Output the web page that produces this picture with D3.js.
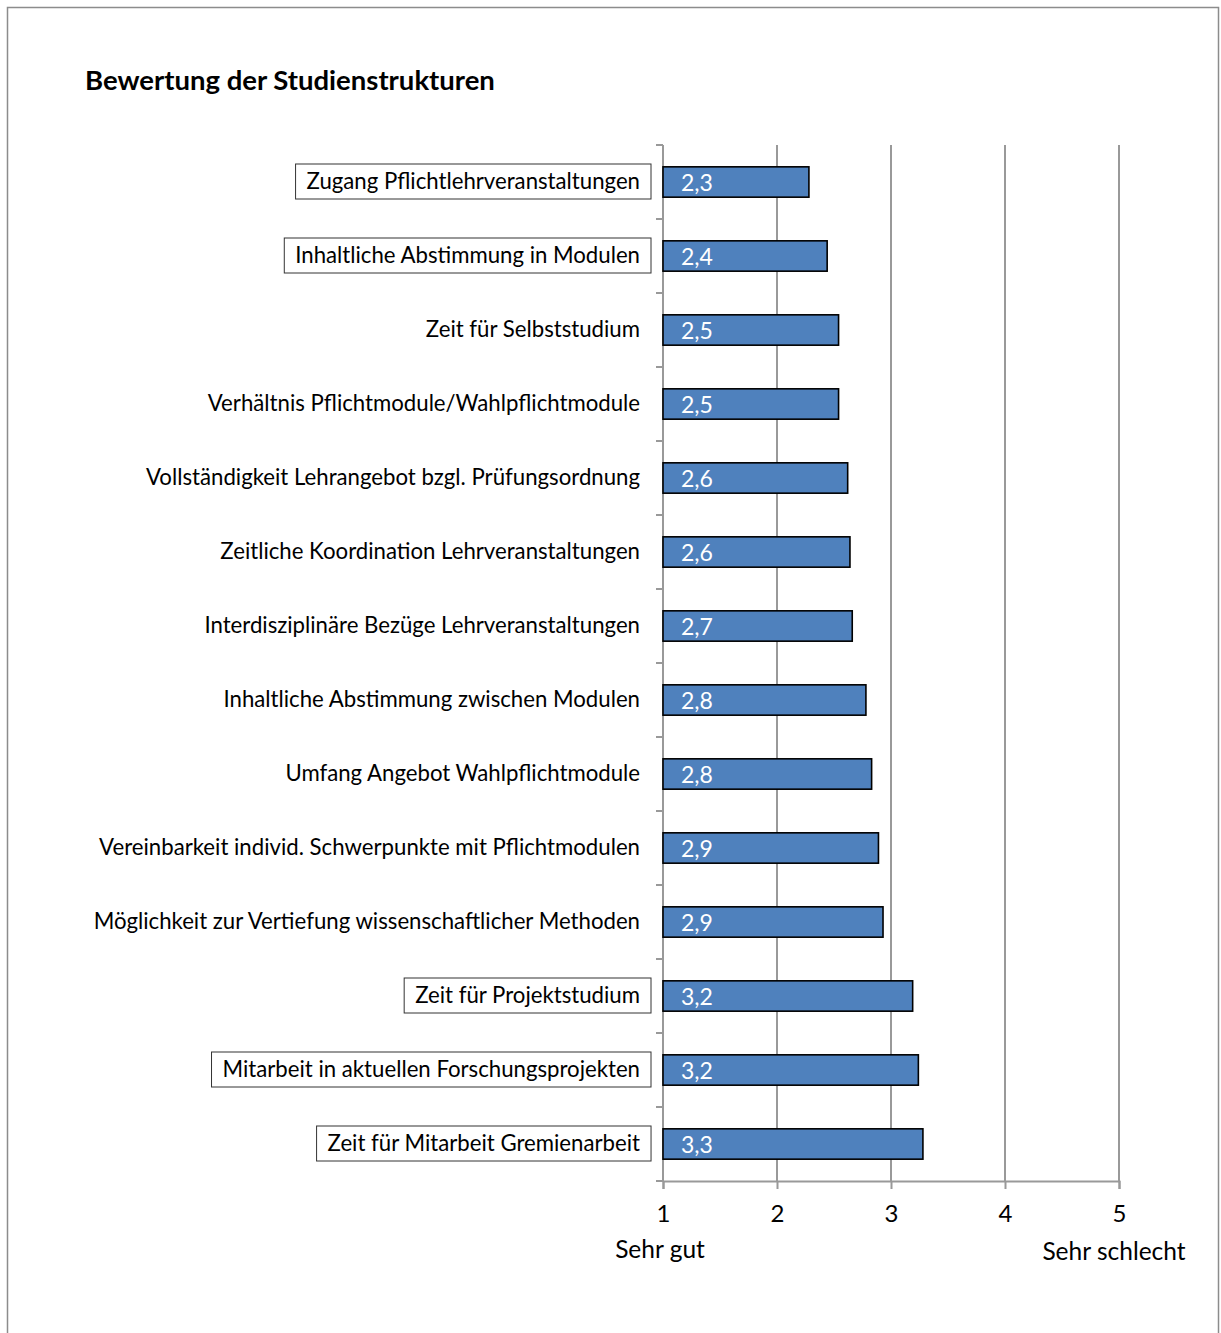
<!DOCTYPE html>
<html><head><meta charset="utf-8">
<script src="https://cdn.jsdelivr.net/npm/d3@7"></script>
<style>
html,body{margin:0;padding:0;background:#fff;}
svg{display:block;font-family:Lato,"Open Sans",sans-serif;}
</style></head>
<body><svg id="chart" width="1221" height="1333"></svg>
<script>
const categories = [
  "Zugang Pflichtlehrveranstaltungen",
  "Inhaltliche Abstimmung in Modulen",
  "Zeit für Selbststudium",
  "Verhältnis Pflichtmodule/Wahlpflichtmodule",
  "Vollständigkeit Lehrangebot bzgl. Prüfungsordnung",
  "Zeitliche Koordination Lehrveranstaltungen",
  "Interdisziplinäre Bezüge Lehrveranstaltungen",
  "Inhaltliche Abstimmung zwischen Modulen",
  "Umfang Angebot Wahlpflichtmodule",
  "Vereinbarkeit individ. Schwerpunkte mit Pflichtmodulen",
  "Möglichkeit zur Vertiefung wissenschaftlicher Methoden",
  "Zeit für Projektstudium",
  "Mitarbeit in aktuellen Forschungsprojekten",
  "Zeit für Mitarbeit Gremienarbeit"
];
const values = [2.28, 2.44, 2.54, 2.54, 2.62, 2.64, 2.66, 2.78, 2.83, 2.89, 2.93, 3.19, 3.24, 3.28];
const valueLabels = ["2,3","2,4","2,5","2,5","2,6","2,6","2,7","2,8","2,8","2,9","2,9","3,2","3,2","3,3"];
const boxed = [true, true, false, false, false, false, false, false, false, false, false, true, true, true];
const xTicks = [1, 2, 3, 4, 5];
const title = "Bewertung der Studienstrukturen";
const leftNote = "Sehr gut";
const rightNote = "Sehr schlecht";

const svg = d3.select("#chart");
// outer frame
svg.append("rect").attr("x",7.5).attr("y",7.5).attr("width",1211).attr("height",1340)
  .attr("fill","none").attr("stroke","#8c8c8c").attr("stroke-width",1.5);

svg.append("text").attr("x",85).attr("y",90).attr("font-size",27.5).attr("font-weight","bold")
  .attr("fill","#000").text(title);

const x = d3.scaleLinear().domain([1,5]).range([663,1119]);
const y = d3.scaleBand().domain(categories).range([145,1181]).paddingInner(0.59).paddingOuter(0.295);
const band = d3.scaleBand().domain(categories).range([145,1181]);

// gridlines
svg.append("g").selectAll("line").data(xTicks.slice(1)).join("line")
  .attr("x1",d=>x(d)).attr("x2",d=>x(d)).attr("y1",145).attr("y2",1181)
  .attr("stroke","#999").attr("stroke-width",2);

// bottom axis
const xAxis = svg.append("g").attr("transform","translate(0,1181)")
  .call(d3.axisBottom(x).tickValues(xTicks).tickSize(8).tickFormat(d3.format("d")));
xAxis.select(".domain").attr("stroke","#999").attr("stroke-width",2);
xAxis.selectAll(".tick line").attr("stroke","#999").attr("stroke-width",2);
xAxis.selectAll(".tick text").attr("font-size",24).attr("font-family","Lato,sans-serif").attr("fill","#000").attr("dy","1.25em");

// left axis with tick marks at band boundaries
const boundaries = categories.map(c=>band(c)).concat([1181]);
svg.append("g").selectAll("line").data(boundaries).join("line")
  .attr("x1",656).attr("x2",663).attr("y1",d=>d).attr("y2",d=>d)
  .attr("stroke","#999").attr("stroke-width",2);
svg.append("line").attr("x1",663).attr("x2",663).attr("y1",145).attr("y2",1181)
  .attr("stroke","#999").attr("stroke-width",2);

// bars
svg.append("g").selectAll("rect").data(categories).join("rect")
  .attr("x",x(1)).attr("y",d=>y(d)).attr("width",(d,i)=>x(values[i])-x(1)).attr("height",y.bandwidth())
  .attr("fill","#4f81bd").attr("stroke","#000").attr("stroke-width",1.6);

// value labels
svg.append("g").selectAll("text").data(categories).join("text")
  .attr("x",x(1)+18).attr("y",d=>y(d)+y.bandwidth()/2+9).attr("font-size",23)
  .attr("fill","#fff").text((d,i)=>valueLabels[i]);

// category labels
const lab = svg.append("g").selectAll("g").data(categories).join("g");
lab.append("text").attr("x",640).attr("y",d=>band(d)+band.bandwidth()/2+7)
  .attr("text-anchor","end").attr("font-size",22.2).attr("fill","#000").text(d=>d);
lab.each(function(d,i){
  if(!boxed[i]) return;
  const t = d3.select(this).select("text").node().getBBox();
  d3.select(this).insert("rect","text").attr("x",t.x-11).attr("y",band(d)+band.bandwidth()/2-18)
    .attr("width",t.width+22).attr("height",35).attr("fill","#fff").attr("stroke","#333").attr("stroke-width",1);
});

svg.append("text").attr("x",660).attr("y",1258).attr("text-anchor","middle").attr("font-size",24.5).text(leftNote);
svg.append("text").attr("x",1114).attr("y",1260).attr("text-anchor","middle").attr("font-size",24.5).text(rightNote);
</script></body></html>
